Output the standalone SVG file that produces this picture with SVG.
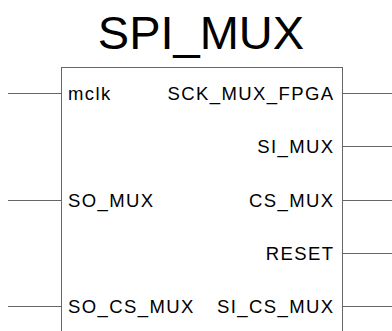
<svg xmlns="http://www.w3.org/2000/svg" width="392" height="331" viewBox="0 0 392 331">
<style>
.pin{stroke:#666;stroke-width:1;fill:none}
.box{stroke:#666;stroke-width:1;fill:#fff}
.lbl{font-family:"Liberation Sans",Arial,sans-serif;font-size:18.5px;letter-spacing:1.4px;fill:#000}
.r{text-anchor:end}
.title{font-family:"Liberation Sans",Arial,sans-serif;font-size:47px;fill:#000;text-anchor:middle}
</style>
<rect width="392" height="331" fill="#fff"/>
<g id="connectors">
<line class="pin" x1="8" y1="93.5" x2="61.5" y2="93.5"/>
<line class="pin" x1="8" y1="200.5" x2="61.5" y2="200.5"/>
<line class="pin" x1="8" y1="306.5" x2="61.5" y2="306.5"/>
<line class="pin" x1="342.5" y1="93.5" x2="392" y2="93.5"/>
<line class="pin" x1="342.5" y1="146.5" x2="392" y2="146.5"/>
<line class="pin" x1="342.5" y1="200.5" x2="392" y2="200.5"/>
<line class="pin" x1="342.5" y1="253.5" x2="392" y2="253.5"/>
<line class="pin" x1="342.5" y1="306.5" x2="392" y2="306.5"/>
</g>
<g id="SPI_MUX">
<text class="title" x="201" y="49">SPI_MUX</text>
<rect class="box" x="61.5" y="67.5" width="281" height="280"/>
<text class="lbl" x="68" y="100">mclk</text>
<text class="lbl" x="68" y="207">SO_MUX</text>
<text class="lbl" x="68" y="313">SO_CS_MUX</text>
<text class="lbl r" x="334.5" y="100">SCK_MUX_FPGA</text>
<text class="lbl r" x="334.5" y="153">SI_MUX</text>
<text class="lbl r" x="334.5" y="207">CS_MUX</text>
<text class="lbl r" x="334.5" y="260">RESET</text>
<text class="lbl r" x="334.5" y="313">SI_CS_MUX</text>
</g>
</svg>
